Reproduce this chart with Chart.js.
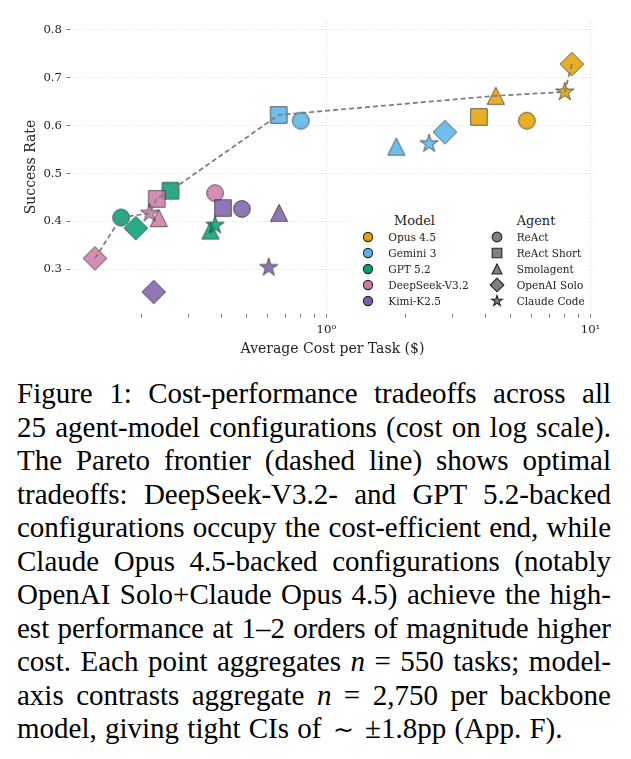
<!DOCTYPE html>
<html>
<head>
<meta charset="utf-8">
<script src="https://cdn.jsdelivr.net/npm/chart.js@4.4.1/dist/chart.umd.min.js"></script>
<style>
  body { margin: 0; background: #fff; }
  #wrap { position: relative; width: 631px; height: 759px; overflow: hidden; }
  #plot { position: absolute; left: 0; top: 0; }
  #legend { position: absolute; left: 352px; top: 208px; width: 236px; height: 104px; background: #fff;
            font-family: "DejaVu Serif", serif; color: #222; }
  #legend .ttl { position: absolute; font-size: 12.9px; line-height: 16px; transform: translateX(-50%); white-space: nowrap; }
  #legend .row { position: absolute; font-size: 10.5px; line-height: 16px; height: 16px; white-space: nowrap; }
  #cap { position: absolute; left: 17px; top: 377px; width: 594px; font-family: "Liberation Serif", "Times New Roman", serif;
         font-size: 29px; line-height: 33.5px; word-spacing: -2px; color: #000; }
  #cap .ln { text-align: justify; text-align-last: justify; }
  #cap .ln.last { text-align: left; text-align-last: left; word-spacing: 1px; }
  #cap .sim { font-size: 25px; padding: 0 3px; }
</style>
</head>
<body>
<div id="wrap">
  <canvas id="plot" width="631" height="365"></canvas>
  <div id="legend"></div>
  <div id="cap">
    <div class="ln">Figure 1: Cost-performance tradeoffs across all</div>
    <div class="ln">25 agent-model configurations (cost on log scale).</div>
    <div class="ln">The Pareto frontier (dashed line) shows optimal</div>
    <div class="ln">tradeoffs: DeepSeek-V3.2- and GPT 5.2-backed</div>
    <div class="ln">configurations occupy the cost-efficient end, while</div>
    <div class="ln">Claude Opus 4.5-backed configurations (notably</div>
    <div class="ln">OpenAI Solo+Claude Opus 4.5) achieve the high-</div>
    <div class="ln">est performance at 1–2 orders of magnitude higher</div>
    <div class="ln">cost. Each point aggregates <i>n</i> = 550 tasks; model-</div>
    <div class="ln">axis contrasts aggregate <i>n</i> = 2,750 per backbone</div>
    <div class="ln last">model, giving tight CIs of <span class="sim">∼</span> ±1.8pp (App. F).</div>
  </div>
</div>
<script>
// data, agent order: ReAct, ReAct Short, Smolagent, OpenAI Solo, Claude Code
const models = ["Opus 4.5", "Gemini 3", "GPT 5.2", "DeepSeek-V3.2", "Kimi-K2.5"];
const agents = ["ReAct", "ReAct Short", "Smolagent", "OpenAI Solo", "Claude Code"];

const costOpus = [5.74, 3.78, 4.38, 8.5, 7.99];
const rateOpus = [0.61, 0.618, 0.662, 0.728, 0.67];
const costGemini = [0.8, 0.66, 1.84, 2.81, 2.45];
const rateGemini = [0.61, 0.622, 0.556, 0.586, 0.562];
const costGpt = [0.167, 0.257, 0.364, 0.19, 0.379];
const rateGpt = [0.408, 0.464, 0.381, 0.386, 0.392];
const costDeepseek = [0.379, 0.228, 0.232, 0.133, 0.214];
const rateDeepseek = [0.459, 0.447, 0.407, 0.323, 0.417];
const costKimi = [0.479, 0.406, 0.662, 0.222, 0.605];
const rateKimi = [0.426, 0.428, 0.418, 0.253, 0.304];

const yTicks = [0.3, 0.4, 0.5, 0.6, 0.7, 0.8];
const xTicks = [0.2, 0.3, 0.4, 0.5, 0.6, 0.7, 0.8, 0.9, 1, 2, 3, 4, 5, 6, 7, 8, 9, 10];
const xMajor = [1, 10];
const xMajorLabels = ["10⁰", "10¹"];

const costs = [costOpus, costGemini, costGpt, costDeepseek, costKimi];
const rates = [rateOpus, rateGemini, rateGpt, rateDeepseek, rateKimi];

const modelColors = ["#E69F00", "#56B4E9", "#009E73", "#CC79A7", "#7B5EA7"];
const agentShapes = ["circle", "square", "triangle", "diamond", "star"];

// marker path, centred on (c, c)
const shapePath = (g, shape, c, k) => {
  g.beginPath();
  if (shape === "circle") g.arc(c, c, 8.4 * k, 0, Math.PI * 2);
  else if (shape === "square") g.rect(c - 8.3 * k, c - 8.3 * k, 16.6 * k, 16.6 * k);
  else if (shape === "triangle") {
    g.moveTo(c, c - 8.6 * k);
    g.lineTo(c + 8.6 * k, c + 8.6 * k);
    g.lineTo(c - 8.6 * k, c + 8.6 * k);
    g.closePath();
  } else if (shape === "diamond") {
    const d = 11.8 * k;
    g.moveTo(c, c - d);
    g.lineTo(c + d, c);
    g.lineTo(c, c + d);
    g.lineTo(c - d, c);
    g.closePath();
  } else if (shape === "star") {
    for (let i = 0; i < 10; i++) {
      const r = (i % 2 ? 0.382 : 1) * 9.6 * k;
      const a = -Math.PI / 2 + (i * Math.PI) / 5;
      const px = c + r * Math.cos(a), py = c + r * Math.sin(a);
      i === 0 ? g.moveTo(px, py) : g.lineTo(px, py);
    }
    g.closePath();
  }
};

const markerImage = (shape, color) => {
  const cv = document.createElement("canvas");
  cv.width = 30;
  cv.height = 30;
  const g = cv.getContext("2d");
  shapePath(g, shape, 15, 1);
  g.globalAlpha = 0.85;
  g.fillStyle = color;
  g.fill();
  g.lineWidth = 0.8;
  g.strokeStyle = "#222";
  g.stroke();
  return cv;
};

const datasets = models.map((m, i) => ({
  label: m,
  data: costs[i].map((c, j) => ({ x: c, y: rates[i][j] })),
  pointStyle: agentShapes.map((s) => markerImage(s, modelColors[i])),
  pointRadius: 9,
  order: 10 - i,
}));

// pareto frontier: cheapest-first, keep each point that beats all cheaper ones
const allPts = [];
costs.forEach((cs, i) => cs.forEach((c, j) => allPts.push({ x: c, y: rates[i][j] })));
allPts.sort((a, b) => a.x - b.x);
const frontier = [];
let best = -1;
allPts.forEach((p) => {
  if (p.y > best) {
    frontier.push(p);
    best = p.y;
  }
});

datasets.push({
  label: "Pareto",
  data: frontier,
  showLine: true,
  borderColor: "#7a7a7a",
  borderWidth: 1.7,
  borderDash: [5, 3],
  pointRadius: 0,
  fill: false,
  order: 0,
});

const tickFont = { family: "DejaVu Serif", size: 11.7 };
const labelFont = { family: "DejaVu Serif", size: 14 };

new Chart(document.getElementById("plot"), {
  type: "scatter",
  data: { datasets },
  options: {
    responsive: false,
    animation: false,
    devicePixelRatio: 1,
    layout: { padding: { left: 0, right: 36, top: 20, bottom: 0 } },
    plugins: { legend: { display: false }, tooltip: { enabled: false } },
    scales: {
      x: {
        type: "logarithmic",
        min: 0.107,
        max: 10.4,
        afterBuildTicks: (scale) => {
          scale.ticks = xTicks.map((v) => ({ value: v }));
        },
        afterFit: (scale) => {
          scale.height = 51;
        },
        ticks: {
          autoSkip: false,
          maxRotation: 0,
          padding: 5,
          color: "#222",
          font: tickFont,
          callback: (v) => {
            const k = xMajor.indexOf(v);
            return k >= 0 ? xMajorLabels[k] : "";
          },
        },
        grid: {
          color: (ctx) => (ctx.tick && xMajor.includes(ctx.tick.value) ? "rgba(0,0,0,0.18)" : "rgba(0,0,0,0)"),
          lineWidth: 0.8,
          tickColor: "#555",
          tickLength: 3.5,
          tickWidth: 0.8,
          tickBorderDash: [],
        },
        border: { display: false, dash: [1, 2] },
        title: {
          display: true,
          text: "Average Cost per Task ($)",
          color: "#222",
          font: labelFont,
          padding: { top: 0, bottom: 7 },
        },
      },
      y: {
        min: 0.207,
        max: 0.82,
        afterBuildTicks: (scale) => {
          scale.ticks = yTicks.map((v) => ({ value: v }));
        },
        afterFit: (scale) => {
          scale.width = 70;
        },
        ticks: {
          padding: 4.5,
          color: "#222",
          font: tickFont,
          callback: (v) => v.toFixed(1),
        },
        grid: {
          color: "rgba(0,0,0,0.18)",
          lineWidth: 0.8,
          tickColor: "#555",
          tickLength: 3.5,
          tickWidth: 0.8,
          tickBorderDash: [],
        },
        border: { display: false, dash: [1, 2] },
        title: {
          display: true,
          text: "Success Rate",
          color: "#222",
          font: labelFont,
          padding: { top: 23.3, bottom: 0 },
        },
      },
    },
  },
});

// legend (two columns: model colour, agent shape)
const legend = document.getElementById("legend");
const legendMarker = (shape, color, cx, cy, k) => {
  const cv = document.createElement("canvas");
  cv.width = 20;
  cv.height = 20;
  cv.style.position = "absolute";
  cv.style.left = cx - 10 + "px";
  cv.style.top = cy - 10 + "px";
  const g = cv.getContext("2d");
  shapePath(g, shape, 10, k);
  g.fillStyle = color;
  g.fill();
  g.lineWidth = 1.1;
  g.strokeStyle = "#222";
  g.stroke();
  legend.appendChild(cv);
};
const addText = (cls, text, x, y) => {
  const d = document.createElement("div");
  d.className = cls;
  d.textContent = text;
  d.style.left = x + "px";
  d.style.top = y - 8 + "px";
  legend.appendChild(d);
};
addText("ttl", "Model", 62.5, 12.7);
addText("ttl", "Agent", 184, 12.7);
models.forEach((m, i) => {
  const y = 29.3 + 16 * i;
  legendMarker("circle", modelColors[i], 16.3, y, 0.55);
  addText("row", m, 36.3, y);
});
agents.forEach((a, i) => {
  const y = 29.3 + 16 * i;
  legendMarker(agentShapes[i], "#808080", 144.7, y, 0.58);
  addText("row", a, 164.7, y);
});
</script>
</body>
</html>
